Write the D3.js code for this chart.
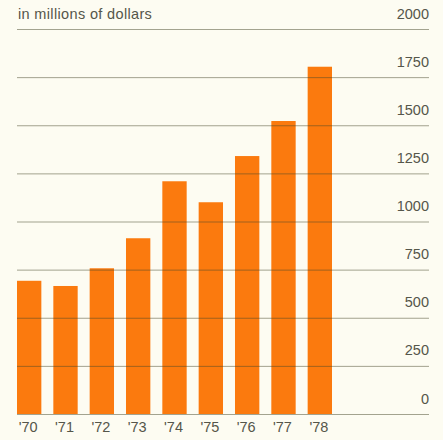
<!DOCTYPE html>
<html>
<head>
<meta charset="utf-8">
<script src="https://cdn.jsdelivr.net/npm/d3@7"></script>
<style>
  html, body { margin: 0; padding: 0; background: #fdfcf2; }
  svg { display: block; }
</style>
</head>
<body>
<script>
// Yearly values, in millions of dollars
const years = ["'70", "'71", "'72", "'73", "'74", "'75", "'76", "'77", "'78"];
const values = [692, 665, 757, 913, 1209, 1100, 1340, 1522, 1804];
const tickValues = [0, 250, 500, 750, 1000, 1250, 1500, 1750, 2000];
const unitLabel = "in millions of dollars";

(function () {
  const W = 443, H = 440;
  const plotLeft = 17, plotRight = 429, plotTop = 29, plotBottom = 414;
  const barsRight = 332;

  const svg = d3.select("body").append("svg")
    .attr("width", W).attr("height", H)
    .style("font-family", "'Liberation Sans', Arial, sans-serif");

  svg.append("rect").attr("width", W).attr("height", H).attr("fill", "#fdfcf2");

  const x = d3.scaleBand()
    .domain(years)
    .range([plotLeft, barsRight])
    .paddingInner(0.33)
    .paddingOuter(0);

  const y = d3.scaleLinear().domain([0, 2000]).range([plotBottom, plotTop]);

  // Bars
  svg.append("g").selectAll("rect")
    .data(values)
    .join("rect")
    .attr("x", (d, i) => x(years[i]))
    .attr("width", x.bandwidth())
    .attr("y", d => y(d))
    .attr("height", d => y(0) - y(d))
    .attr("fill", "#fb7a0e");

  // Horizontal rules drawn across the bars, with value labels above them
  const yAxis = d3.axisRight(y)
    .tickValues(tickValues)
    .tickSize(plotRight - plotLeft)
    .tickFormat(d3.format("d"));

  const axisG = svg.append("g")
    .attr("transform", `translate(${plotLeft},0)`)
    .call(yAxis);
  axisG.select(".domain").remove();
  axisG.selectAll(".tick line")
    .attr("stroke", "#4a4a2c")
    .attr("stroke-opacity", 0.5)
    .attr("stroke-width", 1);
  axisG.selectAll(".tick text")
    .attr("x", plotRight - plotLeft)
    .attr("dy", -11)
    .attr("text-anchor", "end")
    .attr("fill", "#55564a")
    .attr("font-size", 14.5);

  // Year labels
  svg.append("g").selectAll("text")
    .data(years)
    .join("text")
    .attr("x", d => x(d) + x.bandwidth() / 2 - 1)
    .attr("y", 432)
    .attr("text-anchor", "middle")
    .attr("fill", "#55564a")
    .attr("font-size", 14.5)
    .text(d => d);

  // Unit caption
  svg.append("text")
    .attr("x", 18)
    .attr("y", 19)
    .attr("fill", "#55564a")
    .attr("font-size", 14.5)
    .attr("letter-spacing", 0.35)
    .text(unitLabel);
})();
</script>
</body>
</html>
